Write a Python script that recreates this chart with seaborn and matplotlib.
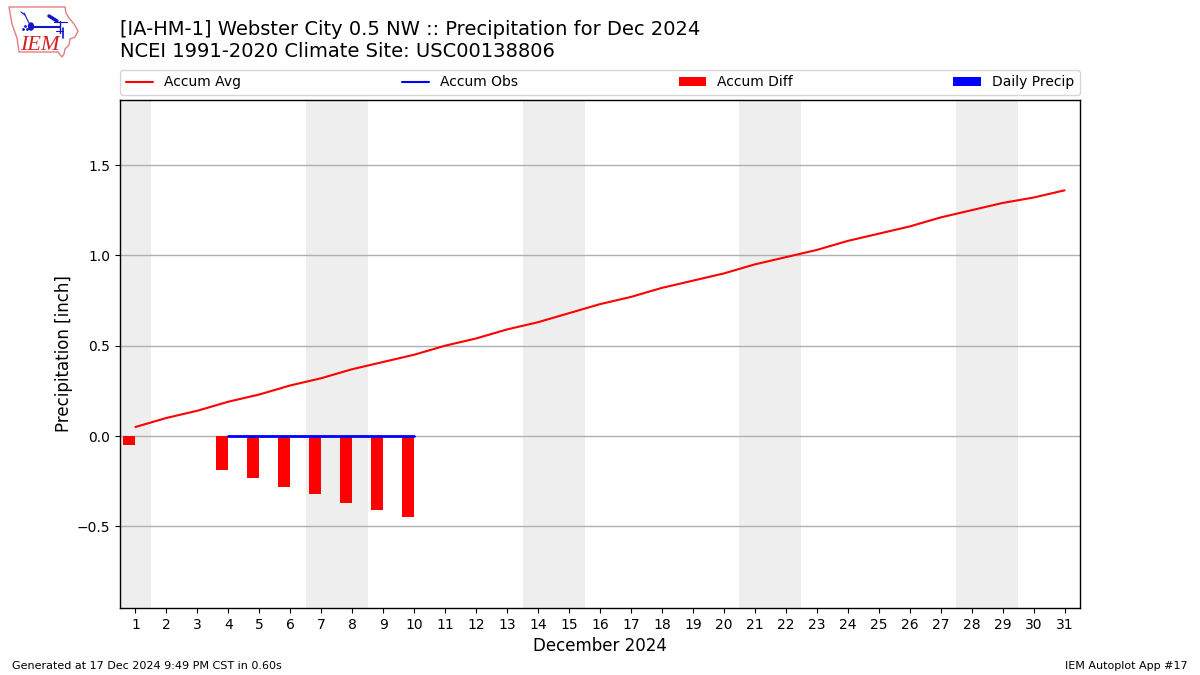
import numpy as np
import pandas as pd
import matplotlib
matplotlib.use("Agg")
import matplotlib.pyplot as plt
from matplotlib.patches import Polygon, Ellipse
import seaborn as sns

days = list(range(1, 32))
accum_avg = [0.05, 0.10, 0.14, 0.19, 0.23, 0.28, 0.32, 0.37, 0.41, 0.45, 0.50,
             0.54, 0.59, 0.63, 0.68, 0.73, 0.77, 0.82, 0.86, 0.90, 0.95, 0.99,
             1.03, 1.08, 1.12, 1.16, 1.21, 1.25, 1.29, 1.32, 1.36]
obs_days = [4, 5, 6, 7, 8, 9, 10]
accum_obs = [0, 0, 0, 0, 0, 0, 0]
diff_days = [1, 4, 5, 6, 7, 8, 9, 10]
accum_diff = [-0.05, -0.19, -0.23, -0.28, -0.32, -0.37, -0.41, -0.45]
precip_days = [4, 5, 6, 7, 8, 9, 10]
daily_precip = [0, 0, 0, 0, 0, 0, 0]
weekends = [(0.5, 1.5), (6.5, 8.5), (13.5, 15.5), (20.5, 22.5), (27.5, 29.5)]
yticks = [-0.5, 0.0, 0.5, 1.0, 1.5]

sns.set_theme(style="ticks", rc={"axes.linewidth": 1.0, "axes.edgecolor": "black",
                                 "xtick.color": "black", "ytick.color": "black",
                                 "text.color": "black", "axes.labelcolor": "black"})
plt.rcParams["font.family"] = ["DejaVu Sans"]

W, H = 1200, 675
fig = plt.figure(figsize=(12, 6.75), dpi=100)
ax = fig.add_axes([120 / W, 1 - 608 / H, 960 / W, 508 / H])

for a, b in weekends:
    ax.axvspan(a, b, color="#eeeeee", lw=0, zorder=0)
ax.yaxis.grid(True, color="#b0b0b0", lw=1, zorder=1)
ax.set_axisbelow(True)

sns.lineplot(x=days, y=accum_avg, color="red", lw=1.5, ax=ax, label="Accum Avg", zorder=3,
             errorbar=None)
sns.lineplot(x=obs_days, y=accum_obs, color="blue", lw=2, ax=ax, label="_nolegend_", zorder=4,
             errorbar=None)
ax.plot([], [], color="blue", lw=1.5, label="Accum Obs")
ax.bar(diff_days, accum_diff, width=-0.4, align="edge", color="red", lw=0, label="Accum Diff", zorder=2)
ax.bar(precip_days, daily_precip, width=0.4, align="edge", color="blue", lw=0, label="Daily Precip", zorder=2)

ax.set_xlim(0.5, 31.5)
ax.set_ylim(-0.952, 1.86)
ax.set_xticks(days)
ax.set_yticks(yticks)
ax.tick_params(axis="both", labelsize=10, length=3.5, width=0.8, direction="out", pad=3.5)
ax.set_xlabel("December 2024", fontsize=12, labelpad=4)
ax.set_ylabel("Precipitation [inch]", fontsize=12, labelpad=3)

ax.legend(loc="lower left", bbox_to_anchor=(0, 1 + 5 / 508, 1, 0.05), ncol=4, mode="expand",
          borderaxespad=0, fontsize=10, frameon=True, fancybox=True, framealpha=0.8,
          edgecolor="#cccccc")

fig.text(120 / W, 1 - 29.5 / H, "[IA-HM-1] Webster City 0.5 NW :: Precipitation for Dec 2024",
         fontsize=14, va="center", ha="left")
fig.text(120 / W, 1 - 51.5 / H, "NCEI 1991-2020 Climate Site: USC00138806",
         fontsize=14, va="center", ha="left")
fig.text(12 / W, 1 - 666 / H, "Generated at 17 Dec 2024 9:49 PM CST in 0.60s",
         fontsize=8, va="center", ha="left")
fig.text(1188 / W, 1 - 666 / H, "IEM Autoplot App #17",
         fontsize=8, va="center", ha="right")

# Logo drawn in pixel coordinates of the figure
logo = fig.add_axes([0, 1 - 62 / H, 90 / W, 62 / H])
logo.set_xlim(0, 90)
logo.set_ylim(62, 0)
logo.axis("off")
outline = [(9, 7), (65, 7), (66, 13), (69, 18), (74, 24), (78, 31), (75, 37), (70, 39),
           (69, 45), (65, 49), (64, 54), (62, 57), (58, 52), (19, 52), (17, 38), (12, 24)]
logo.add_patch(Polygon(outline, closed=True, fill=False, ec="#e08080", lw=1))
blue = "#1414c8"
logo.plot([31, 60], [26.5, 26.5], color=blue, lw=1.5)
logo.plot([24, 29], [13, 23], color=blue, lw=0.8)
logo.plot([21, 25], [12, 15], color=blue, lw=0.8)
logo.plot([49, 57], [16, 21], color=blue, lw=2.5)
logo.plot([54, 67], [21.5, 21.5], color=blue, lw=0.8)
logo.plot([60, 60], [21, 33], color=blue, lw=1)
logo.plot([63, 63], [28, 38], color=blue, lw=1.2)
logo.plot([56, 63], [31, 31], color=blue, lw=0.8)
logo.add_patch(Ellipse((31, 26.5), 5, 7, color=blue))
logo.plot([23, 25, 27], [29, 26, 29], ls="none", marker=".", ms=2, color=blue)
logo.text(20.5, 45.5, "IEM", color="#d42020", fontsize=16, family="Liberation Serif",
          style="italic", ha="left", va="center")

fig.savefig("out.png", dpi=100)
